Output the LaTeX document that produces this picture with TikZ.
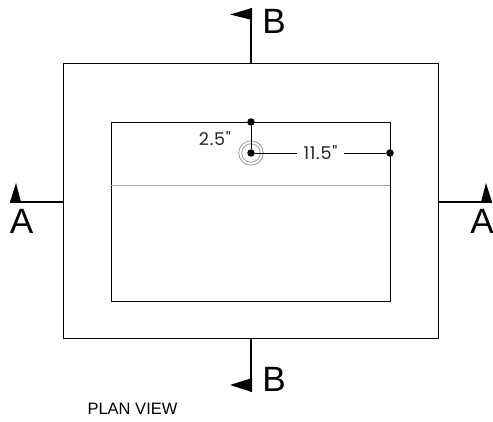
\documentclass[tikz,border=0pt]{standalone}
\usepackage{fontspec}
\setmainfont{Liberation Sans}
\newfontfamily\dimfont[LetterSpace=4]{Poppins}
\begin{document}
\begin{tikzpicture}[x=0.02cm,y=-0.02cm]
    \tikzset{
    wall/.style={rectangle,draw=black,line width=0.45pt,inner sep=0pt,fill=none},
    dimdot/.style={circle,fill=black,inner sep=0pt,minimum size=0.15cm},
    ring/.style={circle,draw=black!40,line width=0.45pt,inner sep=0pt},
    cut/.style={line width=0.8pt},
    flag/.style={fill=black},
    letter/.style={font=\fontsize{20}{22}\selectfont,inner sep=0pt},
    dimtext/.style={font=\dimfont\fontsize{10}{11}\selectfont,text=black!85,inner sep=0pt},
    }
    \useasboundingbox (0,0) rectangle (493,422);
    \node[wall,minimum width=7.5cm,minimum height=5.5cm] (outer) at (250.5,200.5) {};
    \node[wall,minimum width=5.58cm,minimum height=3.58cm] (inner) at (250.5,211.5) {};

    \coordinate (mL) at (111,185);
    \coordinate (mR) at (390,185);
    \draw[black!35,line width=0.45pt] (mL) -- (mR);

    \node[ring,minimum size=0.37cm] (r1) at (251,153) {};
    \node[ring,minimum size=0.49cm] (r2) at (251,153) {};
    \node[dimdot] (c) at (251,153) {};
    \node[dimdot] (dT) at (251,122) {};
    \node[dimdot] (dR) at (390,153) {};
    \node[dimtext] (d1) at (215,138.5) {2.5"};
    \node[dimtext,minimum width=0.94cm] (d2) at (320.5,153) {11.5"};
    \draw[line width=0.45pt] (c) -- (dT);
    \draw[line width=0.45pt] (c) -- (d2);
    \draw[line width=0.45pt] (d2) -- (dR);

    % section marks
    \coordinate (aL) at (10,202);
    \coordinate (aLo) at (63,202);
    \coordinate (aR) at (492,202);
    \coordinate (aRo) at (438,202);
    \coordinate (bT) at (251,8);
    \coordinate (bTo) at (251,63);
    \coordinate (bB) at (251,392);
    \coordinate (bBo) at (251,338);
    \draw[cut] (aL) -- (aLo);
    \draw[cut] (aR) -- (aRo);
    \draw[cut] (bT) -- (bTo);
    \draw[cut] (bB) -- (bBo);
    \fill[flag] (10,202) -- (16,183) -- (21,202) -- cycle;
    \fill[flag] (481,202) -- (486,183) -- (492,202) -- cycle;
    \fill[flag] (252,8) -- (230,14.5) -- (252,20) -- cycle;
    \fill[flag] (252,378) -- (230,385) -- (252,392) -- cycle;

    \node[letter] (lA1) at (21.5,221.5) {A};
    \node[letter] (lA2) at (482,221.5) {A};
    \node[letter] (lB1) at (274,21.5) {B};
    \node[letter] (lB2) at (274,379) {B};
    \node[font=\fontsize{9.4}{11}\selectfont,inner sep=0pt] (title) at (132.5,409) {PLAN VIEW};
\end{tikzpicture}
\end{document}
